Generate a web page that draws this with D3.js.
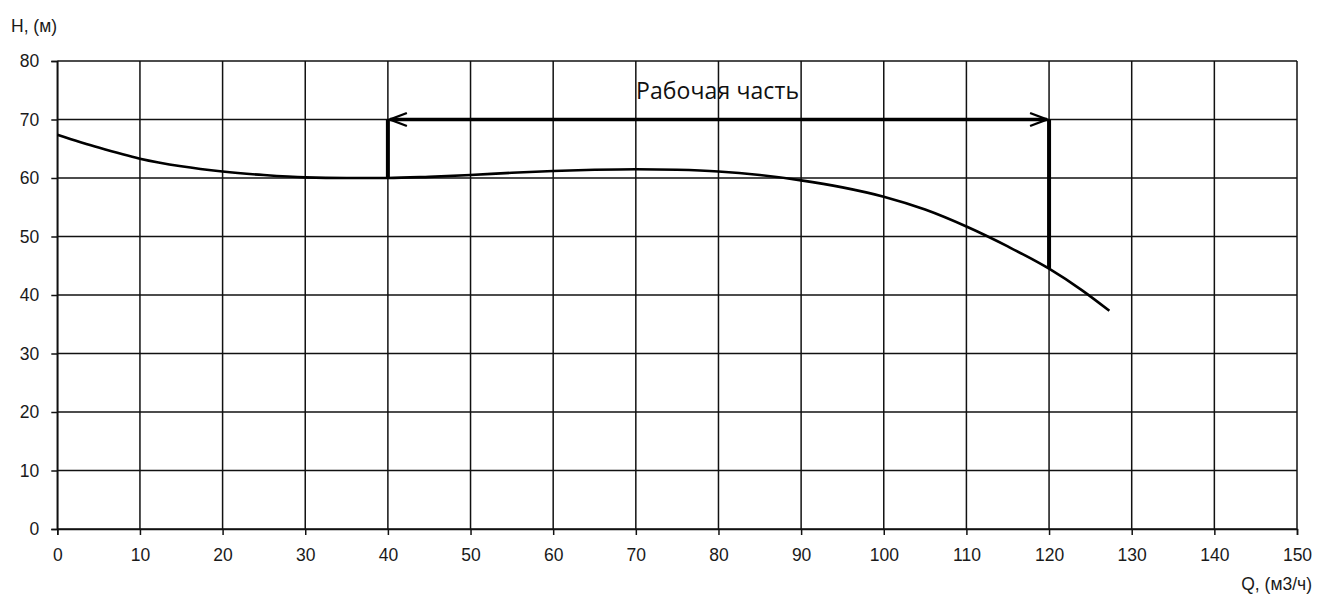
<!DOCTYPE html>
<html><head><meta charset="utf-8">
<script src="https://cdn.jsdelivr.net/npm/d3@7"></script>
<style>body{margin:0;background:#fff}svg{display:block}</style>
</head><body>
<svg id="c" width="1340" height="599"></svg>
<script>
const qValues = [0,5,10,15,20,25,30,35,40,45,50,55,60,65,70,75,80,85,90,95,100,105,110,115,120,124,127.3];
const hValues = [67.4,65.2,63.3,62.0,61.1,60.5,60.1,60.0,60.0,60.2,60.5,60.9,61.2,61.4,61.5,61.4,61.1,60.5,59.6,58.4,56.8,54.6,51.7,48.3,44.5,40.8,37.3];
const xTicks = [0,10,20,30,40,50,60,70,80,90,100,110,120,130,140,150];
const yTicks = [0,10,20,30,40,50,60,70,80];
const workRange = [40,120];
const workLevel = 70;
const workLabel = "Рабочая часть";
const xTitle = "Q, (м3/ч)";
const yTitle = "H, (м)";

const svg = d3.select("#c");
const L=57.3, R=1297, T=61, B=529;
const x = d3.scaleLinear().domain([0,150]).range([L,R]);
const y = d3.scaleLinear().domain([0,80]).range([B,T]);
const font = "'Liberation Sans', Arial, sans-serif";

// grid
svg.append("g").selectAll("line").data(xTicks).join("line")
  .attr("x1",d=>x(d)).attr("x2",d=>x(d)).attr("y1",T).attr("y2",B)
  .attr("stroke","#111").attr("stroke-width",1.5);
svg.append("g").selectAll("line").data(yTicks).join("line")
  .attr("x1",L).attr("x2",R).attr("y1",d=>y(d)).attr("y2",d=>y(d))
  .attr("stroke","#111").attr("stroke-width",1.5);

// axes
const xa = svg.append("g").attr("transform",`translate(0,${B})`)
  .call(d3.axisBottom(x).tickValues(xTicks).tickSize(6).tickPadding(14).tickFormat(d3.format("d")));
const ya = svg.append("g").attr("transform",`translate(${L},0)`)
  .call(d3.axisLeft(y).tickValues(yTicks).tickSize(6).tickPadding(12).tickFormat(d3.format("d")));
[xa,ya].forEach(g=>{
  g.select(".domain").attr("stroke","#111").attr("stroke-width",1.5);
  g.selectAll(".tick line").attr("stroke","#111").attr("stroke-width",1.5);
  g.selectAll("text").attr("font-family",font).attr("font-size",17.5).attr("fill","#1a1a1a");
});

// curve
const pts = qValues.map((q,i)=>[q,hValues[i]]);
svg.append("path").datum(pts)
  .attr("d", d3.line().x(d=>x(d[0])).y(d=>y(d[1])).curve(d3.curveMonotoneX))
  .attr("fill","none").attr("stroke","#000").attr("stroke-width",2.6);

// working range
const hAt = q => { const i = qValues.indexOf(q); return hValues[i]; };
svg.append("line").attr("x1",x(workRange[0])).attr("x2",x(workRange[0]))
  .attr("y1",y(hAt(workRange[0]))).attr("y2",y(workLevel)).attr("stroke","#000").attr("stroke-width",4);
svg.append("line").attr("x1",x(workRange[1])).attr("x2",x(workRange[1]))
  .attr("y1",y(hAt(workRange[1]))).attr("y2",y(workLevel)).attr("stroke","#000").attr("stroke-width",4);
svg.append("line").attr("x1",x(workRange[0])+2).attr("x2",x(workRange[1])-2)
  .attr("y1",y(workLevel)).attr("y2",y(workLevel)).attr("stroke","#000").attr("stroke-width",3.4);
// arrowheads
const ax0=x(workRange[0])+2, ax1=x(workRange[1])-2, ay=y(workLevel);
svg.append("path").attr("d",`M${ax0+17},${ay-6.5} L${ax0},${ay} L${ax0+17},${ay+6.5}`)
  .attr("fill","none").attr("stroke","#000").attr("stroke-width",2.4);
svg.append("path").attr("d",`M${ax1-17},${ay-6.5} L${ax1},${ay} L${ax1-17},${ay+6.5}`)
  .attr("fill","none").attr("stroke","#000").attr("stroke-width",2.4);
svg.append("text").attr("x",x((workRange[0]+workRange[1])/2)-1).attr("y",99)
  .attr("text-anchor","middle").attr("font-family","'Open Sans', sans-serif").attr("font-size",23)
  .attr("textLength",163).attr("fill","#111").text(workLabel);

// titles
svg.append("text").attr("x",11).attr("y",32).attr("font-family",font).attr("font-size",17.5)
  .attr("fill","#1a1a1a").text(yTitle);
svg.append("text").attr("x",1312).attr("y",590).attr("text-anchor","end").attr("font-family",font)
  .attr("font-size",17.5).attr("fill","#1a1a1a").text(xTitle);
</script>
</body></html>
